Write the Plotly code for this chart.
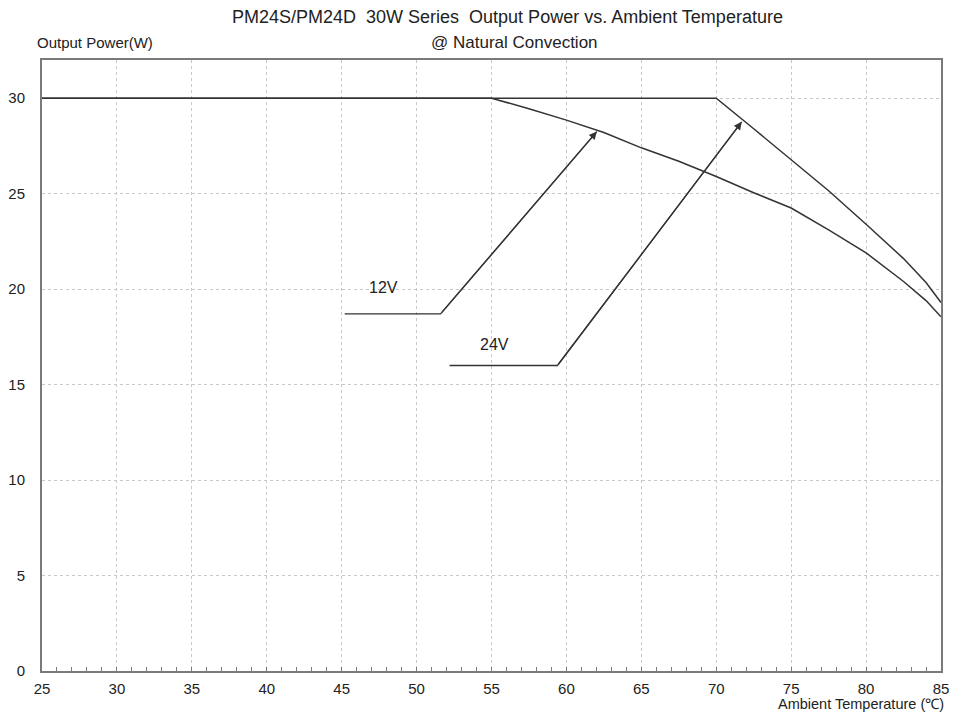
import plotly.graph_objects as go

# Derating curves (Ambient temperature in degC, output power in W)
temp_12v = [25, 55, 57.5, 60, 62.5, 65, 67.5, 70, 72.5, 75, 77.5, 80, 82.5, 84, 85]
power_12v = [30, 30, 29.45, 28.85, 28.2, 27.4, 26.7, 25.9, 25.05, 24.25, 23.1, 21.9, 20.4, 19.4, 18.55]

temp_24v = [25, 70, 72.5, 75, 77.5, 80, 82.5, 84, 85]
power_24v = [30, 30, 28.4, 26.8, 25.15, 23.4, 21.6, 20.35, 19.3]

# Leader lines for labels (polyline: start, knee, arrow tip)
lead_12v_x = [45.2, 51.6, 62.03]
lead_12v_y = [18.7, 18.7, 28.25]
lead_24v_x = [52.2, 59.4, 71.7]
lead_24v_y = [16.0, 16.0, 28.76]

labels = ["12V", "24V"]
label_x = [47.8, 55.2]
label_y = [20.1, 17.1]

x_ticks = list(range(25, 90, 5))
y_ticks = list(range(0, 35, 5))

LINE = "#333333"
AXIS = "#7a7a7a"
GRID = "#c8c8c8"
TXT = "#222222"
FONT = "Liberation Sans, Arial, sans-serif"

fig = go.Figure()
for xs, ys in [(temp_12v, power_12v), (temp_24v, power_24v)]:
    fig.add_trace(go.Scatter(x=xs, y=ys, mode="lines", line=dict(color=LINE, width=1.5),
                             hoverinfo="skip", showlegend=False))
for xs, ys in [(lead_12v_x, lead_12v_y), (lead_24v_x, lead_24v_y)]:
    fig.add_trace(go.Scatter(x=xs, y=ys, mode="lines", line=dict(color=LINE, width=1.3),
                             hoverinfo="skip", showlegend=False))
    fig.add_annotation(x=xs[2], y=ys[2], ax=xs[1], ay=ys[1], xref="x", yref="y", axref="x", ayref="y",
                       showarrow=True, arrowhead=2, arrowsize=1.2, arrowwidth=1.3, arrowcolor=LINE, text="")

for t, lx, ly in zip(labels, label_x, label_y):
    fig.add_annotation(x=lx, y=ly, text=t, showarrow=False, font=dict(family=FONT, size=16, color=TXT))

# Titles
fig.add_annotation(xref="paper", yref="paper", x=0.518, y=1, xanchor="center", yanchor="middle", yshift=43,
                   text="PM24S/PM24D  30W Series  Output Power vs. Ambient Temperature", showarrow=False,
                   font=dict(family=FONT, size=18, color=TXT))
fig.add_annotation(xref="paper", yref="paper", x=0.526, y=1, xanchor="center", yanchor="middle", yshift=18,
                   text="@ Natural Convection", showarrow=False,
                   font=dict(family=FONT, size=17, color=TXT))
fig.add_annotation(xref="paper", yref="paper", x=0, y=1, xanchor="left", yanchor="middle", xshift=-7, yshift=18,
                   text="Output Power(W)", showarrow=False, font=dict(family=FONT, size=15, color=TXT))
fig.add_annotation(xref="paper", yref="paper", x=1, y=0, xanchor="right", yanchor="middle", xshift=5, yshift=-33,
                   text="Ambient Temperature (℃)", showarrow=False, font=dict(family=FONT, size=14.5, color=TXT))

# The page body has an 8px margin; size the figure so the plot area lands where the reference has it.
fig.update_layout(
    width=949, height=705,
    margin=dict(l=34, r=16, t=52, b=42),
    paper_bgcolor="white", plot_bgcolor="white",
    font=dict(family=FONT, size=15, color=TXT),
)
fig.update_xaxes(range=[25, 85], tickvals=x_ticks, showgrid=True, gridcolor=GRID, griddash="dot", gridwidth=1,
                 showline=True, linecolor=AXIS, linewidth=2, mirror=True, zeroline=False, automargin=False,
                 ticks="inside", ticklen=4, tickcolor=AXIS, ticklabelstandoff=3,
                 minor=dict(dtick=1, ticks="inside", ticklen=4, tickcolor=AXIS, showgrid=False),
                 tickfont=dict(size=15))
fig.update_yaxes(range=[0, 32], tickvals=y_ticks, showgrid=True, gridcolor=GRID, griddash="dot", gridwidth=1,
                 showline=True, linecolor=AXIS, linewidth=2, mirror=True, zeroline=False, automargin=False,
                 ticks="", ticklabelstandoff=12, tickfont=dict(size=15))

fig.write_html("out.html")
